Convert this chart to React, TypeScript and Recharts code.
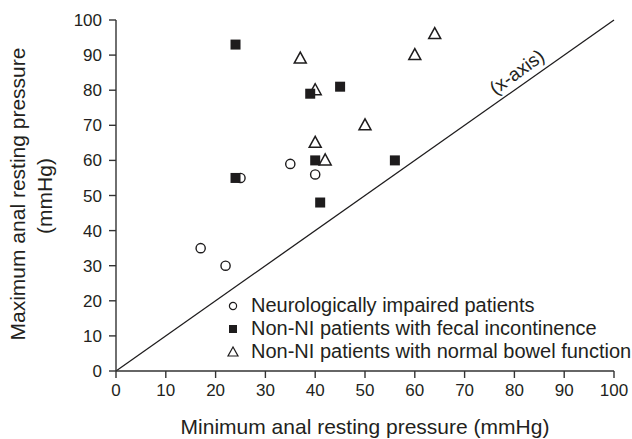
import React from "react";
import {
  ScatterChart,
  Scatter,
  XAxis,
  YAxis,
  ReferenceLine,
  ReferenceDot,
  Legend,
} from "recharts";

const neuroImpaired = [
  { x: 17, y: 35 },
  { x: 22, y: 30 },
  { x: 25, y: 55 },
  { x: 35, y: 59 },
  { x: 40, y: 56 },
];

const fecalIncontinence = [
  { x: 24, y: 93 },
  { x: 24, y: 55 },
  { x: 39, y: 79 },
  { x: 40, y: 60 },
  { x: 41, y: 48 },
  { x: 45, y: 81 },
  { x: 56, y: 60 },
];

const normalBowel = [
  { x: 37, y: 89 },
  { x: 40, y: 80 },
  { x: 40, y: 65 },
  { x: 42, y: 60 },
  { x: 50, y: 70 },
  { x: 60, y: 90 },
  { x: 64, y: 96 },
];

const axisTicks = [0, 10, 20, 30, 40, 50, 60, 70, 80, 90, 100];

const seriesNames = [
  "Neurologically impaired patients",
  "Non-NI patients with fecal incontinence",
  "Non-NI patients with normal bowel function",
];

const xLabel = "Minimum anal resting pressure (mmHg)";
const yLabelLines = ["Maximum anal resting pressure", "(mmHg)"];
const diagonalLabel = "(x-axis)";

const INK = "#1e1c1d";
const TEXT = "#231f20";
const FONT = "'Liberation Sans', Arial, Helvetica, sans-serif";

const CircleShape = (props: any) => {
  const { cx, cy } = props;
  if (cx == null || cy == null) return null;
  return <circle cx={cx} cy={cy} r={4.6} fill="#fff" stroke={INK} strokeWidth={1.4} />;
};

const SquareShape = (props: any) => {
  const { cx, cy } = props;
  if (cx == null || cy == null) return null;
  return <rect x={cx - 5} y={cy - 5} width={10} height={10} fill={INK} />;
};

const TriangleShape = (props: any) => {
  const { cx, cy } = props;
  if (cx == null || cy == null) return null;
  const pts = `${cx},${cy - 6.5} ${cx - 6},${cy + 4.5} ${cx + 6},${cy + 4.5}`;
  return <polygon points={pts} fill="#fff" stroke={INK} strokeWidth={1.5} strokeLinejoin="miter" />;
};

const LegendContent = () => {
  const icons = [
    <svg width={14} height={14} key="c" style={{ display: "block" }}>
      <circle cx={7} cy={7} r={3.6} fill="#fff" stroke={INK} strokeWidth={1.2} />
    </svg>,
    <svg width={14} height={14} key="s" style={{ display: "block" }}>
      <rect x={3} y={3} width={8} height={8} fill={INK} />
    </svg>,
    <svg width={14} height={14} key="t" style={{ display: "block" }}>
      <polygon points="7,2 2,11 12,11" fill="#fff" stroke={INK} strokeWidth={1.2} />
    </svg>,
  ];
  return (
    <div style={{ fontFamily: FONT, fontSize: 20, color: TEXT }}>
      {seriesNames.map((name, i) => (
        <div
          key={name}
          style={{ display: "flex", alignItems: "center", height: 23, lineHeight: "23px", whiteSpace: "nowrap" }}
        >
          <span style={{ display: "block", width: 14, height: 14, marginRight: 11, marginTop: 1 }}>{icons[i]}</span>
          <span>{name}</span>
        </div>
      ))}
    </div>
  );
};

const XLabelContent = () => (
  <text x={365} y={434} textAnchor="middle" fontSize={21} fill={TEXT} fontFamily={FONT}>
    {xLabel}
  </text>
);

const YLabelContent = () => (
  <g fontFamily={FONT} fontSize={21} fill={TEXT}>
    <text x={25} y={194} textAnchor="middle" transform="rotate(-90, 25, 194)">
      {yLabelLines[0]}
    </text>
    <text x={52} y={196} textAnchor="middle" transform="rotate(-90, 52, 196)">
      {yLabelLines[1]}
    </text>
  </g>
);

const DiagLabelShape = (props: any) => {
  const { cx, cy } = props;
  if (cx == null || cy == null) return null;
  return (
    <text
      x={cx}
      y={cy}
      textAnchor="middle"
      dominantBaseline="central"
      fontSize={19}
      fill={TEXT}
      fontFamily={FONT}
      transform={`rotate(-36, ${cx}, ${cy})`}
    >
      {diagonalLabel}
    </text>
  );
};

export default function App() {
  const tickStyle = { fontSize: 17, fill: TEXT, fontFamily: FONT };
  return (
    <div style={{ position: "absolute", left: 0, top: 0, width: 632, height: 439, background: "#fff" }}>
      <ScatterChart width={632} height={439} margin={{ top: 20, right: 18, left: 0, bottom: 0 }}>
        <XAxis
          type="number"
          dataKey="x"
          domain={[0, 100]}
          ticks={axisTicks}
          interval={0}
          height={68}
          tickSize={7}
          tickMargin={6}
          tick={tickStyle}
          axisLine={{ stroke: "#333", strokeWidth: 1.4 }}
          tickLine={{ stroke: "#333", strokeWidth: 1.4 }}
          allowDataOverflow
          label={{ content: XLabelContent }}
        />
        <YAxis
          type="number"
          dataKey="y"
          domain={[0, 100]}
          ticks={axisTicks}
          interval={0}
          width={116}
          tickSize={7}
          tickMargin={7}
          tick={tickStyle}
          axisLine={{ stroke: "#333", strokeWidth: 1.4 }}
          tickLine={{ stroke: "#333", strokeWidth: 1.4 }}
          allowDataOverflow
          label={{ content: YLabelContent }}
        />
        <ReferenceLine
          segment={[
            { x: 0, y: 0 },
            { x: 100, y: 100 },
          ]}
          stroke={INK}
          strokeWidth={1.3}
          ifOverflow="visible"
        />
        <ReferenceDot x={80.5} y={85.2} r={0} shape={DiagLabelShape} ifOverflow="visible" />
        <Legend
          layout="horizontal"
          verticalAlign="middle"
          align="center"
          content={LegendContent}
          wrapperStyle={{ position: "absolute", left: 226, top: 294, width: "auto", height: "auto" }}
        />
        <Scatter name={seriesNames[2]} data={normalBowel} shape={TriangleShape} isAnimationActive={false} />
        <Scatter name={seriesNames[0]} data={neuroImpaired} shape={CircleShape} isAnimationActive={false} />
        <Scatter name={seriesNames[1]} data={fecalIncontinence} shape={SquareShape} isAnimationActive={false} />
      </ScatterChart>
    </div>
  );
}
